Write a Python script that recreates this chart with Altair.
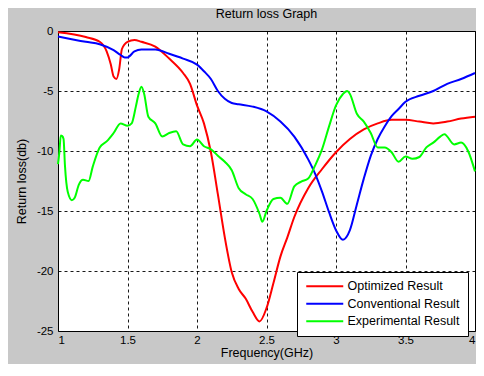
import altair as alt
import pandas as pd

opt_x = [1.0, 1.2, 1.3, 1.35, 1.38, 1.4, 1.42, 1.44, 1.46, 1.5, 1.55, 1.6, 1.7, 1.8, 1.9, 1.95,
         2.0, 2.05, 2.1, 2.15, 2.2, 2.25, 2.3, 2.35, 2.4, 2.45, 2.5, 2.55, 2.6, 2.65, 2.7,
         2.8, 2.9, 3.0, 3.1, 3.2, 3.3, 3.4, 3.5, 3.6, 3.7, 3.8, 3.9, 4.0]
opt_y = [-0.1, -0.5, -0.9, -1.7, -2.8, -3.8, -4.0, -3.2, -1.5, -0.9, -0.75, -0.9, -1.3, -2.3, -3.5, -4.4,
         -6.2, -7.7, -10.1, -13.6, -17.2, -20.1, -21.5, -22.3, -23.4, -24.2, -23.1, -21.0, -18.8, -17.2, -15.5,
         -13.1, -11.5, -10.1, -9.0, -8.2, -7.7, -7.4, -7.4, -7.55, -7.7, -7.55, -7.3, -7.15]

conv_x = [1.0, 1.2, 1.3, 1.4, 1.45, 1.48, 1.5, 1.55, 1.6, 1.7, 1.8, 1.9, 2.0, 2.05, 2.1, 2.15, 2.2,
          2.25, 2.3, 2.4, 2.5, 2.6, 2.7, 2.8, 2.85, 2.9, 2.95, 3.0, 3.05, 3.1, 3.15, 3.2, 3.25, 3.3,
          3.35, 3.4, 3.45, 3.5, 3.6, 3.7, 3.8, 3.9, 4.0]
conv_y = [-0.45, -0.9, -1.1, -1.6, -2.0, -2.2, -2.2, -1.7, -1.55, -1.55, -1.9, -2.3, -2.8, -3.35, -4.0, -5.0, -5.65,
          -6.0, -6.1, -6.3, -6.7, -7.55, -8.8, -10.7, -11.9, -13.4, -15.1, -16.6, -17.4, -16.6, -14.45, -12.3, -10.4, -9.0,
          -7.95, -7.1, -6.5, -5.9, -5.4, -5.0, -4.4, -4.0, -3.5]

exp_x = [1.0, 1.01, 1.02, 1.03, 1.04, 1.05, 1.07, 1.1, 1.12, 1.15, 1.18, 1.22, 1.25, 1.3, 1.35, 1.4,
         1.45, 1.5, 1.53, 1.56, 1.58, 1.6, 1.62, 1.65, 1.7, 1.75, 1.8, 1.85, 1.9, 1.95, 2.0, 2.05,
         2.1, 2.15, 2.2, 2.25, 2.3, 2.35, 2.4, 2.45, 2.47, 2.5, 2.55, 2.6, 2.65, 2.7, 2.75, 2.8,
         2.85, 2.9, 2.95, 3.0, 3.05, 3.08, 3.1, 3.15, 3.2, 3.25, 3.3, 3.35, 3.4, 3.45, 3.5, 3.55,
         3.6, 3.65, 3.7, 3.75, 3.78, 3.85, 3.9, 3.95, 4.0]
exp_y = [-11.1, -10.1, -8.7, -8.75, -9.0, -11.2, -13.4, -14.1, -13.9, -12.8, -12.4, -12.5, -11.3, -9.7, -9.2, -8.5,
         -7.7, -7.9, -7.7, -6.3, -5.25, -4.65, -5.25, -7.15, -7.7, -8.8, -8.5, -8.35, -9.45, -9.6, -9.05, -9.6,
         -9.85, -10.4, -10.9, -11.6, -13.1, -13.6, -14.0, -15.25, -15.9, -15.0, -14.0, -13.9, -14.4, -12.95, -12.55, -12.3,
         -11.2, -9.85, -7.95, -6.2, -5.25, -5.0, -5.25, -6.9, -7.55, -8.5, -9.7, -9.7, -10.1, -10.9, -10.45, -10.65,
         -10.5, -9.7, -9.3, -8.8, -8.6, -9.45, -9.3, -10.0, -11.7]

series_names = ["Optimized Result", "Conventional Result", "Experimental Result"]
series_colors = ["#ff0000", "#0000ff", "#00ff00"]
x_ticks = [1, 1.5, 2, 2.5, 3, 3.5, 4]
y_ticks = [0, -5, -10, -15, -20, -25]

rows = []
for name, xs, ys in [(series_names[0], opt_x, opt_y),
                     (series_names[1], conv_x, conv_y),
                     (series_names[2], exp_x, exp_y)]:
    for i, (a, b) in enumerate(zip(xs, ys)):
        rows.append({"series": name, "f": a, "rl": b, "order": i})
df = pd.DataFrame(rows)

FONT = "Liberation Sans"

chart = alt.Chart(df).mark_line(strokeWidth=2, interpolate="monotone").encode(
    x=alt.X("f:Q", title="Frequency(GHz)",
            scale=alt.Scale(domain=[1, 4], nice=False, zero=False),
            axis=alt.Axis(values=x_ticks, labelExpr="'' + datum.value", grid=True,
                          gridColor="#000000", gridDash=[3, 3], gridOpacity=0.9, gridWidth=1,
                          ticks=False, domain=False, labelPadding=3,
                          labelFont=FONT, labelFontSize=11.5, labelColor="#000000",
                          titleFont=FONT, titleFontSize=12.5, titleFontWeight="normal",
                          titleColor="#000000", titlePadding=1)),
    y=alt.Y("rl:Q", title="Return loss(db)",
            scale=alt.Scale(domain=[-25, 0], nice=False, zero=False),
            axis=alt.Axis(values=y_ticks, labelExpr="'' + datum.value", grid=True,
                          gridColor="#000000", gridDash=[3, 3], gridOpacity=0.9, gridWidth=1,
                          ticks=False, domain=False, labelPadding=5,
                          labelFont=FONT, labelFontSize=11.5, labelColor="#000000",
                          titleFont=FONT, titleFontSize=12.5, titleFontWeight="normal",
                          titleColor="#000000", titlePadding=8)),
    color=alt.Color("series:N",
                    scale=alt.Scale(domain=series_names, range=series_colors),
                    legend=alt.Legend(title=None, orient="none", legendX=239, legendY=241,
                                      symbolType="M-1,0H6.4", symbolSize=100,
                                      symbolStrokeWidth=2, labelOffset=30,
                                      labelFont=FONT, labelFontSize=12.5, labelColor="#000000",
                                      fillColor="#ffffff", strokeColor="#000000",
                                      padding=8, rowPadding=4.5, symbolOffset=0)),
    order="order:Q",
).properties(
    width=417, height=300,
    title=alt.TitleParams("Return loss Graph", font=FONT, fontSize=12.5, fontWeight="normal",
                          color="#000000", offset=5),
    background="#c8c8c8",
    autosize=alt.AutoSizeParams(type="none"),
    padding={"left": 50, "top": 23, "right": 1, "bottom": 33},
).configure_view(
    fill="#ffffff", stroke="#000000", strokeWidth=1
)

chart.save("out.html", embed_options={"renderer": "svg", "actions": False})
